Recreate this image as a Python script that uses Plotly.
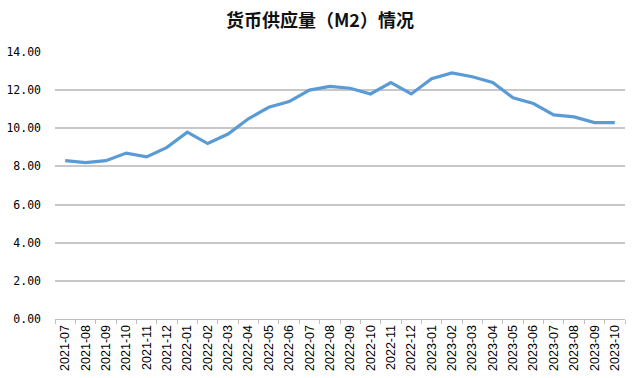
import plotly.graph_objects as go

months = ["2021-07","2021-08","2021-09","2021-10","2021-11","2021-12",
          "2022-01","2022-02","2022-03","2022-04","2022-05","2022-06",
          "2022-07","2022-08","2022-09","2022-10","2022-11","2022-12",
          "2023-01","2023-02","2023-03","2023-04","2023-05","2023-06",
          "2023-07","2023-08","2023-09","2023-10"]
m2 = [8.3, 8.2, 8.3, 8.7, 8.5, 9.0,
      9.8, 9.2, 9.7, 10.5, 11.1, 11.4,
      12.0, 12.2, 12.1, 11.8, 12.4, 11.8,
      12.6, 12.9, 12.7, 12.4, 11.6, 11.3,
      10.7, 10.6, 10.3, 10.3]
y_ticks = [0, 2, 4, 6, 8, 10, 12, 14]
title_text = "货币供应量（M2）情况"

fig = go.Figure()
fig.add_trace(go.Scatter(
    x=months, y=m2, mode="lines",
    line=dict(color="#5b9bd5", width=3.2),
    hoverinfo="skip"))

fig.update_layout(
    width=640, height=378,
    margin=dict(l=55, r=15, t=52, b=59),
    paper_bgcolor="white", plot_bgcolor="white",
    showlegend=False,
    title=dict(text="<b>" + title_text + "</b>", x=0.5, xanchor="center",
               y=0.945, yanchor="middle",
               font=dict(family="Noto Sans CJK SC", size=18, color="#111111")),
    font=dict(family="Noto Sans CJK SC", color="#000000"),
)
fig.update_xaxes(
    type="category", tickangle=-90, automargin=False,
    tickfont=dict(family="Liberation Sans", size=12.5, color="#000000"),
    showgrid=False, showline=True, linecolor="#bfbfbf", linewidth=1,
    ticks="outside", tickson="boundaries", ticklen=4, tickcolor="#bfbfbf",
    range=[-0.5, len(months) - 0.5],
)
fig.update_yaxes(
    range=[0, 14], tickvals=y_ticks, automargin=False,
    ticktext=["%.2f" % v for v in y_ticks],
    tickfont=dict(family="DejaVu Sans Mono", size=11.5, color="#000000"),
    showgrid=True, gridcolor="#c8c8c8", gridwidth=1.5,
    zeroline=False, showline=False, ticks="", ticklabelstandoff=13,
)

fig.write_html("out.html")
